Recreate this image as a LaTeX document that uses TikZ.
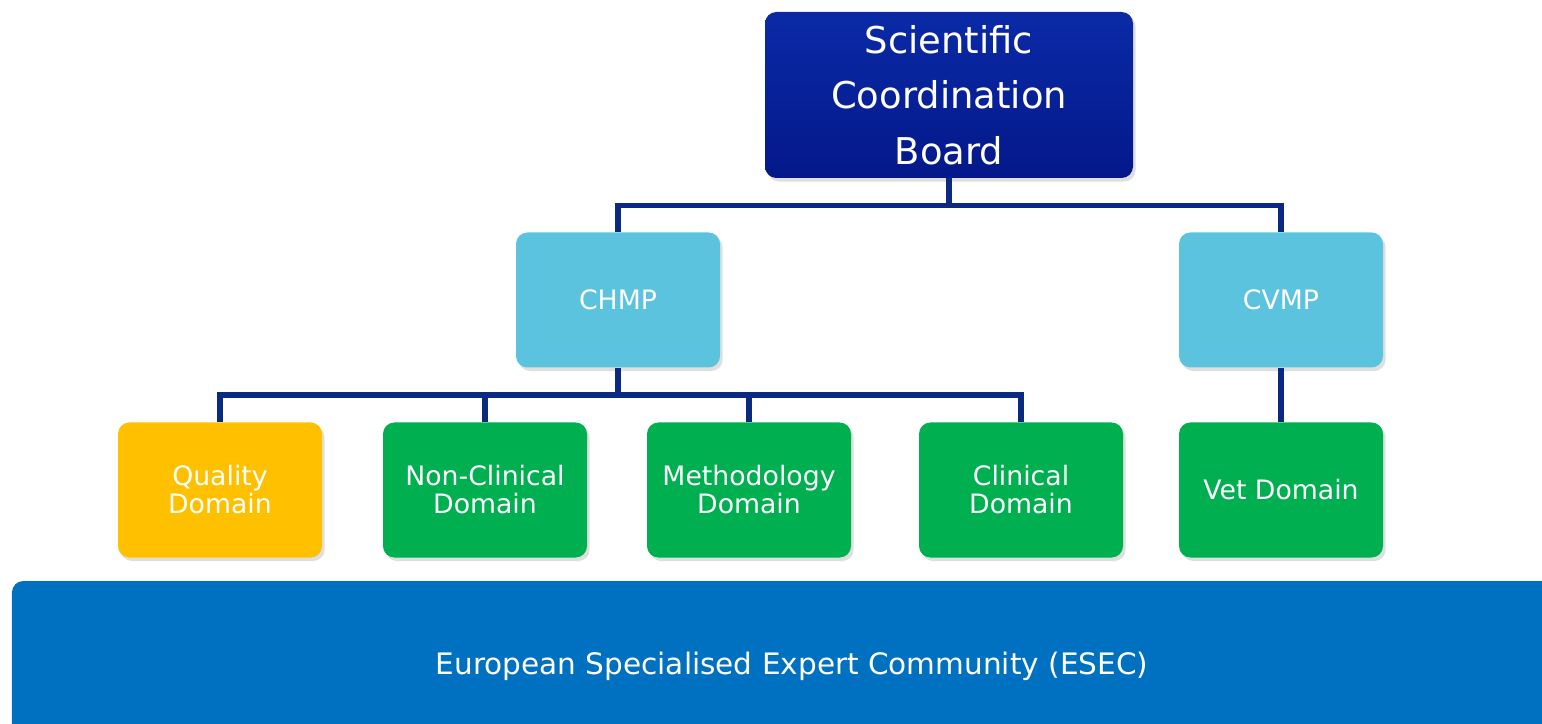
\documentclass[tikz,border=0pt]{standalone}
\usepackage{fontspec}
\setmainfont{DejaVu Sans}
\usepackage{tikz}
\usetikzlibrary{positioning}
\usetikzlibrary{shadows}
\definecolor{boardblue}{HTML}{0A2AA6}
\definecolor{boarddark}{HTML}{04188A}
\definecolor{cttlblue}{HTML}{5CC3DF}
\definecolor{qualgold}{HTML}{FFC000}
\definecolor{domgreen}{HTML}{00B050}
\definecolor{esecblue}{HTML}{0070C0}
\definecolor{linknavy}{HTML}{0A2A82}
\tikzset{orgbox/.style={rectangle,draw=none,rounded corners=6.5pt,text=white,
align=center,inner sep=2pt,drop shadow={shadow xshift=1.5pt,shadow yshift=-2pt,opacity=0.25}}}
\tikzset{boardbox/.style={orgbox,top color=boardblue,bottom color=boarddark,
minimum width=7.36cm,minimum height=3.32cm,font=\fontsize{21}{31.7}\selectfont}}
\tikzset{cttlbox/.style={orgbox,fill=cttlblue,
minimum width=4.08cm,minimum height=2.7cm,font=\fontsize{15.2}{15.9}\selectfont}}
\tikzset{domainbox/.style={orgbox,fill=domgreen,
minimum width=4.08cm,minimum height=2.7cm,font=\fontsize{15.2}{15.9}\selectfont}}
\tikzset{esecbox/.style={orgbox,fill=esecblue,
minimum width=31.2cm,minimum height=3.4cm,font=\fontsize{16.8}{18}\selectfont}}
\tikzset{link/.style={draw=linknavy,line width=3.1pt}}
\begin{document}
\begin{tikzpicture}

    \clip (0,0) rectangle (30.84,14.46);

    \node[boardbox] (board) at (18.98, 12.56) {Scientific\\Coordination\\Board};

    \node[cttlbox] (chmp) at (12.36, 8.46) {CHMP};
    \node[cttlbox] (cvmp) at (25.62, 8.46) {CVMP};

    \node[domainbox, fill=qualgold] (quality) at (4.40, 4.66) {Quality\\Domain};
    \node[domainbox] (nonclin) at (9.70, 4.66) {Non-Clinical\\Domain};
    \node[domainbox] (method) at (14.98, 4.66) {Methodology\\Domain};
    \node[domainbox] (clinical) at (20.42, 4.66) {Clinical\\Domain};
    \node[domainbox] (vet) at (25.62, 4.66) {Vet Domain};

    \node[esecbox] (esec) at (15.84, 1.14) {European Specialised Expert Community (ESEC)};

    \draw[link] (board.south) -- ++(0,-0.54) coordinate (topbus);
    \draw[link] (chmp.north) |- (topbus) -| (cvmp.north);

    \draw[link] (chmp.south) -- ++(0,-0.54) coordinate (midbus);
    \draw[link] (quality.north) |- (midbus) -| (clinical.north);
    \draw[link] (nonclin.north) -- (nonclin.north |- midbus);
    \draw[link] (method.north) -- (method.north |- midbus);

    \draw[link] (cvmp.south) -- (vet.north);

\end{tikzpicture}
\end{document}
